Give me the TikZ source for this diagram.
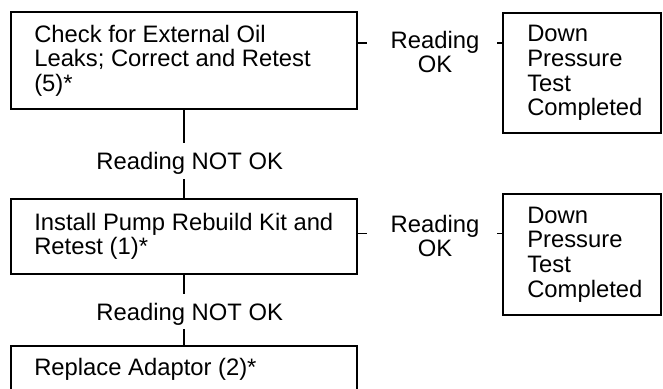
\documentclass[tikz,border=0pt]{standalone}
\usepackage{fontspec}
\setmainfont{Liberation Sans}
\begin{document}
\begin{tikzpicture}[x=1pt,y=-1pt,
  box/.style={draw, line width=1.8pt, inner sep=0pt},
  txt/.style={align=left, inner sep=0pt, font=\fontsize{23.8}{24.6}\selectfont},
  lbl/.style={align=center, inner sep=0pt, font=\fontsize{23.8}{24}\selectfont},
  ln/.style={line width=1.8pt}]
\useasboundingbox (0,0) rectangle (663,388);
\clip (0,0) rectangle (663,388);
% left boxes
\node[box, minimum width=346pt, minimum height=97pt] (b1) at (184,60.5) {};
\node[txt, anchor=west] (t1) at ([xshift=24pt]b1.west) {Check for External Oil\\Leaks; Correct and Retest\\(5)*};
\node[box, minimum width=346pt, minimum height=75pt] (b2) at (184,236.5) {};
\node[txt, anchor=west] (t2) at ([xshift=24pt]b2.west) {Install Pump Rebuild Kit and\\Retest (1)*};
\node[box, minimum width=346pt, minimum height=46pt] (b3) at (184,369) {};
\node[txt, anchor=west] (t3) at ([xshift=24pt]b3.west) {Replace Adaptor (2)*};
% right boxes
\node[box, minimum width=158pt, minimum height=120pt] (d1) at (582,73) {};
\node[txt, anchor=west] (u1) at ([xshift=25pt]d1.west) {Down\\Pressure\\Test\\Completed};
\node[box, minimum width=158pt, minimum height=121pt] (d2) at (582,254.5) {};
\node[txt, anchor=west] (u2) at ([xshift=25pt]d2.west) {Down\\Pressure\\Test\\Completed};
% labels
\node[lbl, anchor=base] (nr1) at (189.7,169.5) {Reading NOT OK};
\node[lbl, anchor=base] (nr2) at (189.7,320) {Reading NOT OK};
\node[lbl] (ok1) at (435,51.8) {Reading\\OK};
\node[lbl] (ok2) at (435,236) {Reading\\OK};
% vertical connectors
\coordinate (v1a) at (184,143);
\coordinate (v1b) at (184,179);
\coordinate (v2a) at (184,294);
\coordinate (v2b) at (184,329);
\draw[ln] (b1.south) -- (v1a);
\draw[ln] (v1b) -- (b2.north);
\draw[ln] (b2.south) -- (v2a);
\draw[ln] (v2b) -- (b3.north);
% horizontal connectors
\coordinate (h1a) at (367,43);
\coordinate (h1b) at (497,43);
\coordinate (h2a) at (367,233.5);
\coordinate (h2b) at (497,233.5);
\draw[ln] (b1.east |- h1a) -- (h1a);
\draw[ln] (h1b) -- (d1.west |- h1b);
\draw[ln] (b2.east |- h2a) -- (h2a);
\draw[ln] (h2b) -- (d2.west |- h2b);
\end{tikzpicture}
\end{document}
